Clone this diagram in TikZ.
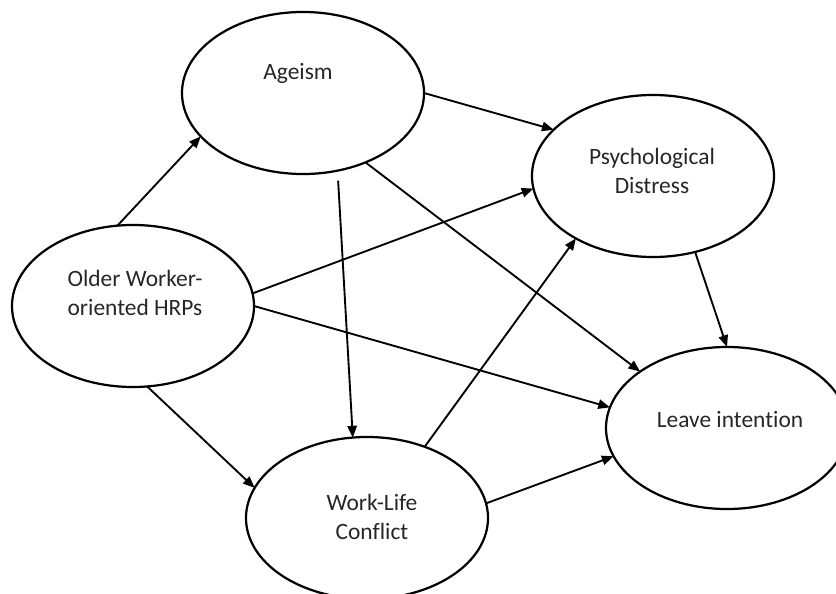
\documentclass[tikz,border=0pt]{standalone}
\usepackage{fontspec}
\setmainfont{Carlito}[Ligatures=NoCommon]
\usepackage{tikz}
\usetikzlibrary{arrows.meta,shapes.geometric}
\tikzset{
	latent/.style={ellipse,draw,line width=1.9pt,minimum width=7.26cm,minimum height=4.86cm,inner sep=0pt},
	every node/.style={outer sep=0pt,inner sep=2pt},
	lbl/.style={align=center,font=\fontsize{20}{24.5}\selectfont,text=black!85},
	directed/.style={line width=1.6pt,arrows={-Triangle[length=10pt,width=8pt]}}
	}
\begin{document}
\begin{tikzpicture}[x=0.03cm,y=-0.03cm]
	\useasboundingbox (0,0) rectangle (836,594);
	% constructs
	\node[latent] (age) at (303,93) {};
	\node[latent] (psy) at (653,176) {};
	\node[latent] (hrp) at (133,306) {};
	\node[latent] (lea) at (727,428) {};
	\node[latent] (wlc) at (367,518) {};
	\node[lbl] (agetxt) at (298,73) {Ageism};
	\node[lbl] (psytxt) at (652,171) {Psychological\\Distress};
	\node[lbl] (hrptxt) at (135,293) {Older Worker-\\oriented HRPs};
	\node[lbl] (leatxt) at (730,420) {Leave intention};
	\node[lbl] (wlctxt) at (372,517) {Work-Life\\Conflict};
	% paths
	\draw[directed] (hrp.101) -- (age.203);
	\draw[directed] (age.0) -- (psy.155);
	\draw[directed] (hrp.6.5) -- (psy.186);
	\draw[directed] (age.-48) -- (lea.147);
	\draw[directed] (hrp.0) -- (lea.170);
	\draw[directed,shorten <=0.3cm] (age.-66) -- (wlc.100);
	\draw[directed] (hrp.-80) -- (wlc.165);
	\draw[directed] (wlc.51.5) -- (psy.219.5);
	\draw[directed] (psy.-61) -- (lea.90);
	\draw[directed] (wlc.7) -- (lea.194);
\end{tikzpicture}
\end{document}
